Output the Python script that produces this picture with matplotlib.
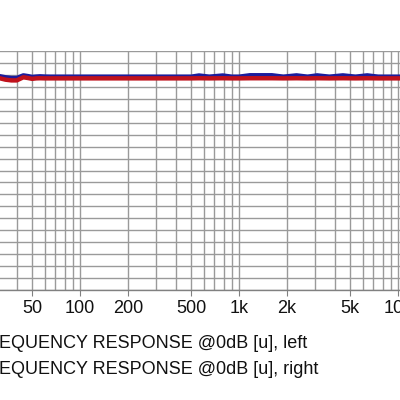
import matplotlib
matplotlib.use("Agg")
import matplotlib.pyplot as plt
from matplotlib.ticker import FixedLocator, NullLocator

plt.rcParams['font.family'] = ['Liberation Sans', 'DejaVu Sans']

# Frequency response data (Hz, dB)
freq = [20, 25, 31, 34, 37, 40, 44, 47, 50, 53, 56, 60, 65, 80, 100, 200, 300, 500,
        560, 650, 790, 900, 1000, 1170, 1400, 1610, 1900, 2300, 2700, 3100, 3700,
        4500, 5400, 6400, 7500, 9000, 12000, 16000, 20000]
left_db = [-0.10, -0.12, -0.10, -0.20, -0.26, -0.26, -0.04, -0.10, -0.17, -0.14, -0.12, -0.14,
           -0.15, -0.15, -0.15, -0.15, -0.15, -0.15,
           -0.05, -0.15, -0.05, -0.15, -0.15, -0.03, -0.03, -0.03, -0.15, -0.04, -0.15, -0.04,
           -0.15, -0.04, -0.15, -0.04, -0.15, -0.15, -0.15, -0.15, -0.15]
right_db = [-0.25, -0.27, -0.27, -0.40, -0.46, -0.46, -0.20, -0.26, -0.33, -0.29, -0.28, -0.29,
            -0.29, -0.29, -0.29, -0.29, -0.29, -0.29,
            -0.28, -0.29, -0.28, -0.29, -0.29, -0.28, -0.28, -0.28, -0.29, -0.28, -0.29, -0.28,
            -0.29, -0.28, -0.29, -0.28, -0.29, -0.29, -0.29, -0.29, -0.29]
x_ticks = [20, 50, 100, 200, 500, 1000, 2000, 5000, 10000, 20000]
x_labels = ["20", "50", "100", "200", "500", "1k", "2k", "5k", "10k", "20k"]
minor_grid = [30, 40, 60, 70, 80, 90, 300, 400, 600, 700, 800, 900,
              3000, 4000, 6000, 7000, 8000, 9000]
y_min, y_max = -18, 2
legend_labels = ["FREQUENCY RESPONSE @0dB [u], left", "FREQUENCY RESPONSE @0dB [u], right"]

W, H = 400, 400
fig = plt.figure(figsize=(4, 4), dpi=100)
fig.patch.set_facecolor("white")

# axes extends beyond the visible canvas (reference is a crop)
x20 = -31.1
x20k = 445.9
top = 51
bottom = 290
ax = fig.add_axes([x20 / W, 1 - bottom / H, (x20k - x20) / W, (bottom - top) / H])
ax.set_xscale("log")
ax.set_xlim(20, 20000)
ax.set_ylim(y_min, y_max)

for f in x_ticks + minor_grid:
    ax.axvline(f, color="#9a9a9a", lw=1.0, zorder=1)
for v in range(y_min, y_max + 1):
    ax.axhline(v, color="#9a9a9a", lw=1.0, zorder=1)

ax.plot(freq, left_db, color="#1c1c9c", lw=3.2, zorder=3, solid_capstyle="butt")
ax.plot(freq, right_db, color="#c0121c", lw=3.2, zorder=4, solid_capstyle="butt")

ax.xaxis.set_major_locator(FixedLocator(x_ticks))
ax.xaxis.set_minor_locator(NullLocator())
ax.set_xticklabels(x_labels)
ax.tick_params(axis="x", length=4, color="#808080", labelsize=13, pad=3, labelcolor="#111111")
ax.set_yticks([])
for s in ["top", "right", "left"]:
    ax.spines[s].set_visible(False)
ax.spines["bottom"].set_color("#808080")
ax.spines["bottom"].set_linewidth(1.0)

# legend-like texts, cropped on the left
fig.canvas.draw()
r = fig.canvas.get_renderer()
probe = fig.text(0, 0, "FR", fontsize=13)
w_fr = probe.get_window_extent(r).width
probe.remove()
x0 = (-w_fr - 1) / W
fig.text(x0, 1 - 344 / H, legend_labels[0], fontsize=13, va="center", ha="left", color="#111111")
fig.text(x0, 1 - 370 / H, legend_labels[1], fontsize=13, va="center", ha="left", color="#111111")

fig.savefig("out.png", dpi=100, facecolor="white")
